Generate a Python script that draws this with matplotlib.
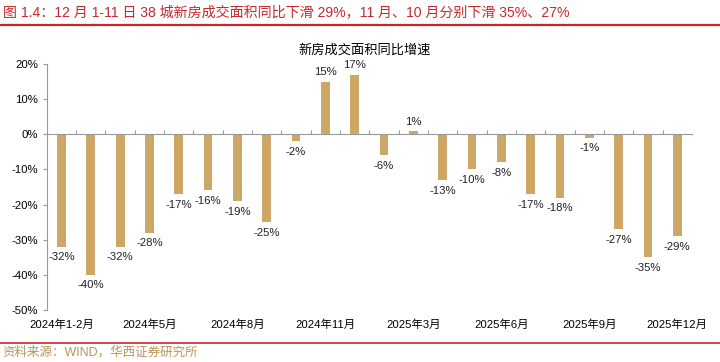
import numpy as np
import matplotlib
matplotlib.use("Agg")
import matplotlib.pyplot as plt
from matplotlib.lines import Line2D

plt.rcParams['font.family'] = ['Liberation Sans', 'Noto Sans CJK SC', 'DejaVu Sans']

# 新房成交面积同比增速 (%), 2024年1-2月 ~ 2025年12月
MONTHS = (["2024年1-2月"] + [f"2024年{m}月" for m in range(3, 13)]
          + ["2025年1-2月"] + [f"2025年{m}月" for m in range(3, 13)])
YOY = [-32, -40, -32, -28, -17, -16, -19, -25, -2, 15, 17,
       -6, 1, -13, -10, -8, -17, -18, -1, -27, -35, -29]
LABEL_IDX = [0, 3, 6, 9, 12, 15, 18, 21]

BAR = "#CDA766"
RED = "#C8282D"

fig = plt.figure(figsize=(7.2, 3.62), dpi=100)
ax = fig.add_axes([0.065, 0.144, 0.896, 0.679])

x = np.arange(len(YOY))
ax.bar(x, YOY, width=0.3, color=BAR, zorder=2)
for xi, v in zip(x, YOY):
    ax.annotate(f"{v}%", (xi, v), xytext=(0, 3 if v >= 0 else -4),
                textcoords="offset points", ha="center",
                va="bottom" if v >= 0 else "top", fontsize=8.2, color="#222222")

ax.set_xlim(-0.5, len(YOY) - 0.5)
ax.set_ylim(-50, 20)
ax.set_yticks(np.arange(-50, 21, 10))
ax.set_yticklabels([f"{t}%" for t in range(-50, 21, 10)], fontsize=8.2)

for s in ["top", "right"]:
    ax.spines[s].set_visible(False)
ax.spines["left"].set_color("#999999")
ax.spines["bottom"].set_position(("data", 0))
ax.spines["bottom"].set_color("#999999")
ax.tick_params(axis="y", length=3, color="#999999", pad=3)
ax.set_xticks(x[:-1] + 0.5)
ax.set_xticklabels([])
ax.tick_params(axis="x", direction="in", length=3, color="#999999")

sec = ax.secondary_xaxis(0)
sec.set_xticks(x[LABEL_IDX])
sec.set_xticklabels([MONTHS[i] for i in LABEL_IDX], fontsize=8.2)
sec.tick_params(length=0, pad=7)
sec.spines["bottom"].set_visible(False)

fig.text(0.507, 0.862, "新房成交面积同比增速", ha="center", va="center", fontsize=9.5)

fig.text(0.004, 0.967,
         "图 1.4：12 月 1-11 日 38 城新房成交面积同比下滑 29%，11 月、10 月分别下滑 35%、27%",
         ha="left", va="center", fontsize=10.1, color=RED)
fig.add_artist(Line2D([0, 1], [0.931, 0.931], transform=fig.transFigure, color=RED, lw=1.6))
fig.add_artist(Line2D([0, 1], [0.052, 0.052], transform=fig.transFigure, color=RED, lw=1.2))
fig.text(0.004, 0.027, "资料来源：WIND，华西证券研究所", ha="left", va="center",
         fontsize=9, color="#B8955A")

fig.savefig("out.png", dpi=100)
